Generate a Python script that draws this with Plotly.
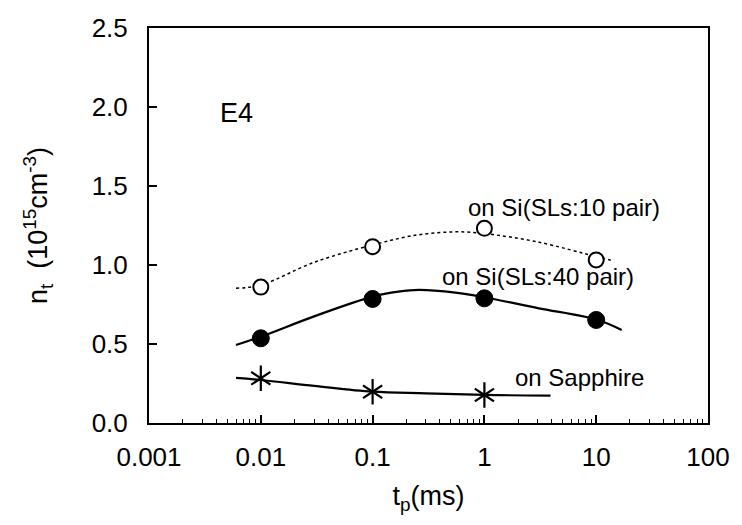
import plotly.graph_objects as go

# measured trap density n_t versus pulse time t_p
tp_points = [0.01, 0.1, 1, 10]
sl10_points = [0.86, 1.116, 1.232, 1.032]
sl40_points = [0.536, 0.785, 0.789, 0.652]
tp_sapphire = [0.01, 0.1, 1]
sapphire_points = [0.283, 0.198, 0.177]

# trend curves
sl10_curve_x = [0.006, 0.01, 0.03, 0.1, 0.25, 0.58, 1, 3, 10, 13.5]
sl10_curve_y = [0.853, 0.873, 1.017, 1.127, 1.19, 1.21, 1.199, 1.146, 1.053, 1.03]
sl40_curve_x = [0.006, 0.01, 0.03, 0.1, 0.17, 0.26, 0.55, 1, 3, 10, 16.9]
sl40_curve_y = [0.494, 0.546, 0.675, 0.8, 0.831, 0.842, 0.825, 0.796, 0.727, 0.655, 0.589]
sap_curve_x = [0.006, 0.01, 0.03, 0.1, 0.3, 1, 3.9]
sap_curve_y = [0.285, 0.272, 0.235, 0.198, 0.188, 0.178, 0.173]

x_tickvals = [0.001, 0.01, 0.1, 1, 10, 100]
x_ticktext = ["0.001", "0.01", "0.1", "1", "10", "100"]
y_tickvals = [0.0, 0.5, 1.0, 1.5, 2.0, 2.5]

FONT = "Liberation Sans, Arial, sans-serif"

fig = go.Figure()

# fitted curves
fig.add_trace(go.Scatter(x=sl10_curve_x, y=sl10_curve_y, mode="lines",
                         line=dict(color="black", width=1.5, dash="dot", shape="spline"),
                         hoverinfo="skip"))
fig.add_trace(go.Scatter(x=sl40_curve_x, y=sl40_curve_y, mode="lines",
                         line=dict(color="black", width=2.2, shape="spline"),
                         hoverinfo="skip"))
fig.add_trace(go.Scatter(x=sap_curve_x, y=sap_curve_y, mode="lines",
                         line=dict(color="black", width=2.2, shape="spline"),
                         hoverinfo="skip"))

# data markers
fig.add_trace(go.Scatter(x=tp_points, y=sl10_points, mode="markers",
                         marker=dict(symbol="circle", size=15, color="white",
                                     line=dict(color="black", width=2))))
fig.add_trace(go.Scatter(x=tp_points, y=sl40_points, mode="markers",
                         marker=dict(symbol="circle", size=17, color="black",
                                     line=dict(color="black", width=1))))
# six-armed star from two three-armed symbols
for sym in ["y-up-open", "y-down-open"]:
    fig.add_trace(go.Scatter(x=tp_sapphire, y=sapphire_points, mode="markers",
                             marker=dict(symbol=sym, size=16, color="black",
                                         line=dict(color="black", width=2.2))))

ann_font = dict(family=FONT, size=24, color="black")
fig.add_annotation(x=-2.221, y=1.962, xref="x", yref="y", text="E4",
                   showarrow=False, font=dict(family=FONT, size=27, color="black"),
                   xanchor="center", yanchor="middle")
fig.add_annotation(x=-0.166, y=1.361, xref="x", yref="y", text="on Si(SLs:10 pair)",
                   showarrow=False, font=ann_font, xanchor="left", yanchor="middle")
fig.add_annotation(x=-0.394, y=0.926, xref="x", yref="y", text="on Si(SLs:40 pair)",
                   showarrow=False, font=ann_font, xanchor="left", yanchor="middle")
fig.add_annotation(x=0.257, y=0.291, xref="x", yref="y", text="on Sapphire",
                   showarrow=False, font=ann_font, xanchor="left", yanchor="middle")

fig.update_xaxes(
    type="log", range=[-3, 2],
    tickvals=x_tickvals, ticktext=x_ticktext,
    ticks="inside", ticklen=8, tickwidth=1.5, tickcolor="black",
    minor=dict(ticks="inside", ticklen=4, tickwidth=1.2, tickcolor="black",
               dtick="D1", showgrid=False),
    showline=True, linecolor="black", linewidth=2, mirror=True,
    showgrid=False, zeroline=False,
    tickfont=dict(family=FONT, size=26, color="black"),
    ticklabelstandoff=10,
    title=dict(text="t<sub>p</sub>(ms)", font=dict(family=FONT, size=27, color="black"),
               standoff=15),
)
fig.update_yaxes(
    range=[0, 2.5],
    tickvals=y_tickvals, tickformat=".1f",
    ticks="inside", ticklen=8, tickwidth=2, tickcolor="black",
    showline=True, linecolor="black", linewidth=2, mirror=True,
    showgrid=False, zeroline=False,
    tickfont=dict(family=FONT, size=26, color="black"),
    ticklabelstandoff=14,
    title=dict(text="n<sub>t</sub>  (10<sup>15</sup>cm<sup>-3</sup>)",
               font=dict(family=FONT, size=27, color="black"), standoff=36),
)

fig.update_layout(
    width=742, height=525,
    margin=dict(l=149, r=25, t=28, b=102),
    paper_bgcolor="white", plot_bgcolor="white",
    showlegend=False,
)

fig.write_html("out.html")
